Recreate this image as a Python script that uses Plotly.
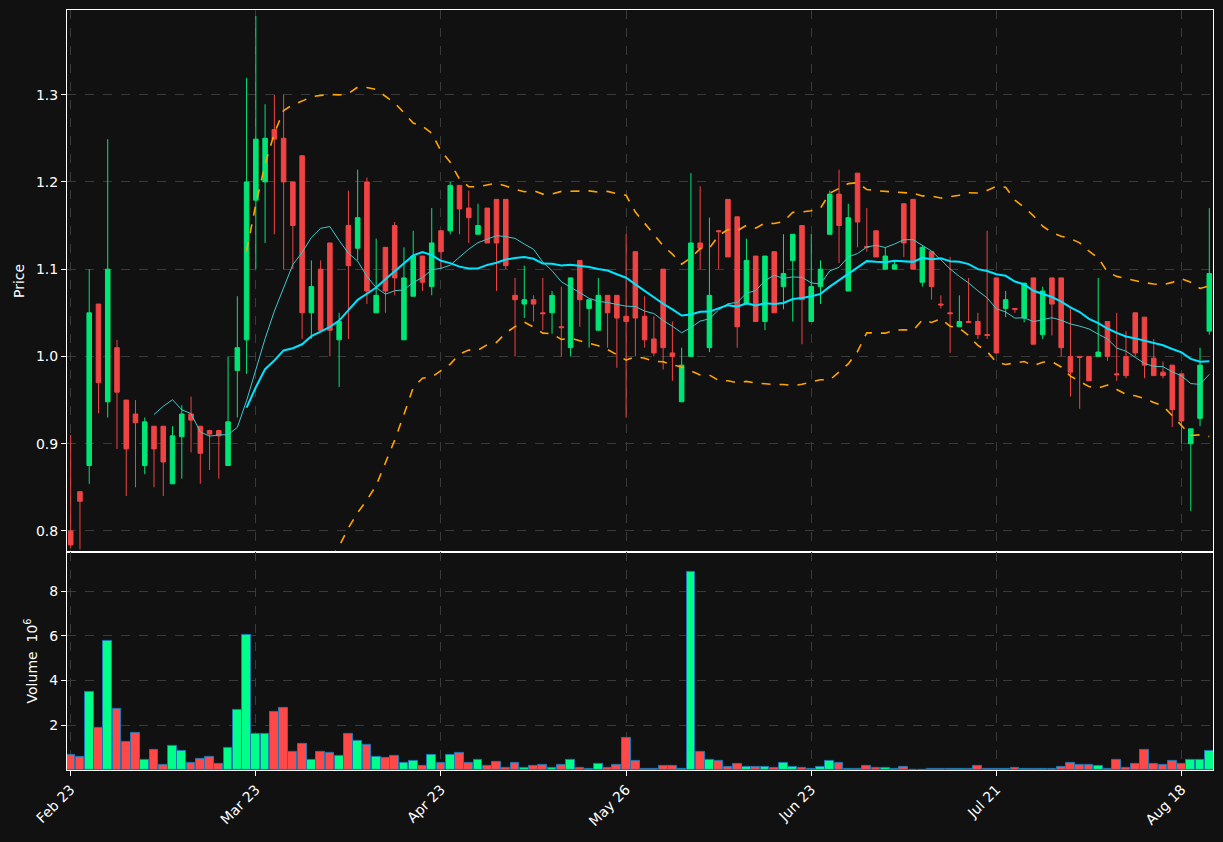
import numpy as np
import pandas as pd
import plotly.graph_objects as go
from plotly.subplots import make_subplots

opens = [0.800,0.845,0.875,1.060,0.948,1.010,0.950,0.934,0.875,0.920,0.920,0.854,0.908,0.934,0.920,0.915,0.915,0.875,0.984,1.019,
         1.179,1.200,1.260,1.250,1.200,1.230,1.050,1.100,1.130,1.019,1.150,1.124,1.200,1.050,1.125,1.150,1.019,1.069,1.115,1.080,
         1.144,1.144,1.196,1.170,1.140,1.170,1.180,1.180,1.070,1.060,1.065,1.050,1.050,1.034,1.010,1.110,1.055,1.030,1.070,1.070,
         1.046,1.120,1.046,1.020,1.100,1.004,0.948,1.000,1.130,1.010,1.144,1.180,1.160,1.060,1.115,1.040,1.120,1.080,1.110,1.150,
         1.040,1.080,1.140,1.186,1.075,1.210,1.126,1.144,1.100,1.100,1.175,1.180,1.085,1.120,1.060,1.050,1.034,1.040,1.040,1.025,
         1.090,1.055,1.055,1.044,1.090,1.025,1.090,1.090,1.000,1.000,1.000,1.000,1.040,0.980,1.000,1.050,1.045,0.998,0.982,0.990,
         0.980,0.900,0.929,1.029]
closes = [0.784,0.834,1.050,0.970,1.100,0.959,0.894,0.924,0.925,0.894,0.879,0.909,0.934,0.927,0.889,0.911,0.909,0.925,1.010,1.200,
          1.249,1.250,1.249,1.200,1.150,1.050,1.080,1.030,1.030,1.040,1.104,1.159,1.075,1.070,1.075,1.090,1.090,1.115,1.085,1.130,
          1.120,1.196,1.169,1.159,1.150,1.130,1.130,1.104,1.065,1.065,1.060,1.049,1.070,1.033,1.090,1.065,1.065,1.070,1.050,1.044,
          1.040,1.044,1.019,1.004,1.010,1.000,0.990,1.130,1.124,1.070,1.143,1.114,1.034,1.110,1.040,1.115,1.050,1.095,1.140,1.065,
          1.080,1.100,1.186,1.150,1.159,1.154,1.125,1.114,1.115,1.105,1.130,1.100,1.125,1.080,1.059,1.049,1.040,1.039,1.025,1.024,
          1.004,1.065,1.054,1.084,1.014,1.075,1.060,1.010,0.982,0.999,0.972,1.005,1.000,0.979,0.978,1.004,0.990,0.978,0.978,0.939,
          0.926,0.917,0.990,1.095]
highs = [0.910,0.845,1.100,1.060,1.249,1.019,0.950,0.950,0.930,0.920,0.920,0.920,0.944,0.954,0.920,0.916,0.916,1.000,1.069,1.319,
         1.390,1.289,1.300,1.300,1.200,1.230,1.110,1.110,1.130,1.050,1.190,1.214,1.205,1.135,1.125,1.154,1.125,1.144,1.115,1.170,
         1.144,1.200,1.196,1.190,1.175,1.170,1.180,1.180,1.090,1.104,1.070,1.090,1.075,1.080,1.090,1.110,1.065,1.090,1.070,1.070,
         1.140,1.120,1.069,1.046,1.100,1.040,1.010,1.210,1.195,1.159,1.145,1.180,1.160,1.135,1.115,1.115,1.120,1.140,1.140,1.150,
         1.140,1.110,1.190,1.214,1.175,1.210,1.170,1.144,1.125,1.110,1.175,1.180,1.127,1.120,1.070,1.114,1.070,1.090,1.050,1.144,
         1.090,1.075,1.055,1.084,1.090,1.080,1.090,1.090,1.055,1.000,1.000,1.090,1.040,1.050,1.029,1.050,1.045,1.020,0.994,0.990,
         0.980,0.917,1.010,1.170]
lows = [0.780,0.779,0.854,0.935,0.930,0.894,0.840,0.850,0.865,0.850,0.840,0.854,0.860,0.890,0.854,0.870,0.860,0.875,0.930,0.980,
        1.100,1.130,1.140,1.100,1.100,1.020,1.020,1.030,1.000,0.965,1.020,1.110,1.060,1.050,1.050,1.070,1.019,1.069,1.075,1.070,
        1.100,1.140,1.140,1.130,1.140,1.130,1.075,1.100,1.000,1.044,1.040,1.030,1.026,1.000,1.000,1.034,1.010,1.030,1.010,0.987,
        0.930,1.000,1.010,1.000,0.985,0.972,0.948,1.000,1.100,1.005,1.100,1.114,1.010,1.060,1.040,1.030,1.050,1.054,1.040,1.014,
        1.040,1.060,1.140,1.107,1.075,1.125,1.120,1.114,1.100,1.100,1.114,1.100,1.080,1.065,1.055,1.004,1.034,1.039,1.020,1.020,
        1.004,1.045,1.050,1.039,1.014,1.020,1.024,1.000,0.954,0.940,0.972,1.000,0.995,0.972,0.975,1.000,0.975,0.978,0.975,0.919,
        0.900,0.823,0.920,1.025]
volumes = [0.66,0.57,3.50,1.88,5.76,2.74,1.25,1.65,0.44,0.89,0.21,1.07,0.84,0.30,0.48,0.57,0.26,0.98,2.69,6.03,
           1.61,1.61,2.60,2.78,0.80,1.16,0.44,0.80,0.75,0.62,1.61,1.29,1.11,0.57,0.53,0.62,0.30,0.39,0.17,0.66,
           0.30,0.66,0.75,0.30,0.44,0.17,0.35,0.08,0.30,0.08,0.17,0.21,0.08,0.21,0.44,0.08,0.03,0.26,0.08,0.21,
           1.43,0.39,0.05,0.05,0.17,0.17,0.03,8.87,0.80,0.44,0.39,0.12,0.26,0.12,0.12,0.12,0.08,0.30,0.12,0.08,
           0.03,0.12,0.39,0.30,0.03,0.03,0.17,0.08,0.08,0.03,0.12,0.02,0.02,0.03,0.03,0.03,0.03,0.03,0.17,0.03,
           0.03,0.03,0.08,0.03,0.03,0.03,0.03,0.12,0.30,0.21,0.21,0.17,0.03,0.44,0.08,0.26,0.89,0.26,0.21,0.39,
           0.26,0.44,0.44,0.86]
tick_pos = [0, 20, 40, 60, 80, 100, 120]
tick_labels = ["Feb 23", "Mar 23", "Apr 23", "May 26", "Jun 23", "Jul 21", "Aug 18"]

n = len(closes)
x = list(range(n))
c = pd.Series(closes)
ma10 = c.rolling(10).mean()
ma20 = c.rolling(20).mean()
sd20 = c.rolling(20).std(ddof=0)
upper = ma20 + 2 * sd20
lower = ma20 - 2 * sd20

UP, DN = "#00e676", "#f04444"
vcol = ["#00ff88" if cl >= op else "#ff4848" for op, cl in zip(opens, closes)]

fig = make_subplots(rows=2, cols=1, shared_xaxes=True, row_heights=[0.713, 0.287], vertical_spacing=0)
fig.add_trace(go.Candlestick(x=x, open=opens, high=highs, low=lows, close=closes,
                             increasing=dict(line=dict(color=UP, width=1), fillcolor=UP),
                             decreasing=dict(line=dict(color=DN, width=1), fillcolor=DN),
                             whiskerwidth=0, showlegend=False), row=1, col=1)
fig.add_trace(go.Scatter(x=x, y=ma10, mode="lines", line=dict(color="#40c8c8", width=1), showlegend=False), row=1, col=1)
fig.add_trace(go.Scatter(x=x, y=ma20, mode="lines", line=dict(color="#00e5ff", width=2), showlegend=False), row=1, col=1)
fig.add_trace(go.Scatter(x=x, y=upper, mode="lines", line=dict(color="#ffa500", width=1.6, dash="dash"), showlegend=False), row=1, col=1)
fig.add_trace(go.Scatter(x=x, y=lower, mode="lines", line=dict(color="#ffa500", width=1.6, dash="dash"), showlegend=False), row=1, col=1)
fig.add_trace(go.Bar(x=x, y=volumes, marker=dict(color=vcol, line=dict(color="#1f77b4", width=1)),
                     width=0.95, showlegend=False), row=2, col=1)

grid = dict(showgrid=True, gridcolor="#3a3a3a", griddash="dash", gridwidth=1, zeroline=False,
            showline=True, linecolor="white", linewidth=1, mirror=True, automargin=False,
            tickfont=dict(color="white", size=14), ticks="outside", tickcolor="white")
fig.update_xaxes(**grid, range=[-0.4, n - 0.6], rangeslider_visible=False)
fig.update_xaxes(tickvals=tick_pos, ticktext=tick_labels, tickangle=-45, row=2, col=1)
fig.update_xaxes(showticklabels=False, tickvals=tick_pos, row=1, col=1)
fig.update_yaxes(**grid)
fig.update_yaxes(range=[0.776, 1.397], dtick=0.1, tickformat=".1f",
                 title=dict(text="Price", font=dict(color="white", size=14), standoff=8), row=1, col=1)
fig.update_yaxes(range=[0, 9.75], tickvals=[2, 4, 6, 8],
                 title=dict(text="Volume  10<sup>6</sup>", font=dict(color="white", size=14), standoff=8), row=2, col=1)
fig.update_layout(width=1223, height=842, paper_bgcolor="#111111", plot_bgcolor="#111111",
                  margin=dict(l=67, r=10, t=10, b=72, autoexpand=False), bargap=0,
                  font=dict(family="DejaVu Sans", color="white"))
fig.write_html("out.html", config={"displayModeBar": False},
               post_script="document.body.style.margin='0';document.body.style.background='#111111';")
